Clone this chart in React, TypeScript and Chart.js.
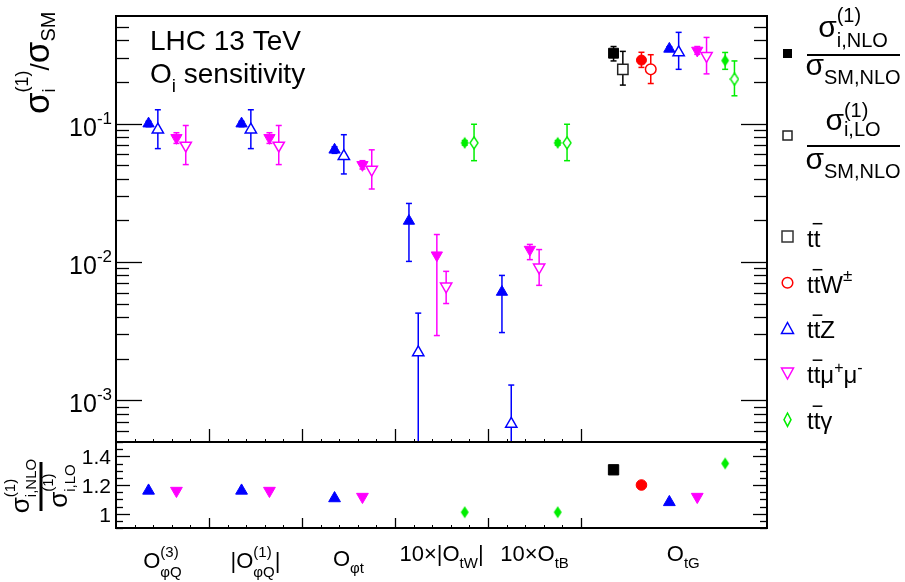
import React, { useEffect, useRef } from 'react';
import { Chart, registerables } from 'chart.js';
Chart.register(...registerables);

const FONT = '"Liberation Sans", Arial, Helvetica, sans-serif';

// ---------- axes / categories ----------
const categoryCenters = [0.5, 1.5, 2.5, 3.5, 4.5, 6.1];
const binBoundaries = [1, 2, 3, 4, 5];
const upperTickValues = [0.001, 0.01, 0.1];
const upperTickExponents = ['-3', '-2', '-1'];
const lowerTickValues = [1, 1.2, 1.4];
const lowerTickLabels = ['1', '1.2', '1.4'];

// ---------- t tbar ----------
const ttNloX = [5.35];
const ttNloY = [0.323];
const ttNloLo = [0.284];
const ttNloHi = [0.361];
const ttLoX = [5.45];
const ttLoY = [0.247];
const ttLoLo = [0.19];
const ttLoHi = [0.333];
const ttRatioX = [5.35];
const ttRatio = [1.306];

// ---------- t tbar W ----------
const ttwNloX = [5.65];
const ttwNloY = [0.288];
const ttwNloLo = [0.255];
const ttwNloHi = [0.328];
const ttwLoX = [5.75];
const ttwLoY = [0.247];
const ttwLoLo = [0.195];
const ttwLoHi = [0.315];
const ttwRatioX = [5.65];
const ttwRatio = [1.2];

// ---------- t tbar Z ----------
const ttzNloX = [0.35, 1.35, 2.35, 3.15, 4.15, 5.95];
const ttzNloY = [0.1, 0.1, 0.0647, 0.0198, 0.00607, 0.347];
const ttzNloLo = [0.095, 0.095, 0.061, 0.0101, 0.00309, 0.333];
const ttzNloHi = [0.104, 0.104, 0.068, 0.0265, 0.008, 0.36];
const ttzLoX = [0.45, 1.45, 2.45, 3.25, 4.25, 6.05];
const ttzLoY = [0.0904, 0.0904, 0.0582, 0.00222, 0.000676, 0.327];
const ttzLoLo = [0.066, 0.066, 0.0433, 0, 0, 0.247];
const ttzLoHi = [0.126, 0.126, 0.0832, 0.00427, 0.00129, 0.457];
const ttzRatioX = [0.35, 1.35, 2.35, 5.95];
const ttzRatio = [1.16, 1.16, 1.107, 1.08];

// ---------- t tbar mu mu ----------
const ttmNloX = [0.65, 1.65, 2.65, 3.45, 4.45, 6.25];
const ttmNloY = [0.079, 0.079, 0.0504, 0.0112, 0.0123, 0.338];
const ttmNloLo = [0.072, 0.072, 0.047, 0.00294, 0.0104, 0.317];
const ttmNloHi = [0.086, 0.086, 0.054, 0.0158, 0.0134, 0.361];
const ttmLoX = [0.75, 1.75, 2.75, 3.55, 4.55, 6.35];
const ttmLoY = [0.0696, 0.0696, 0.0466, 0.00667, 0.00916, 0.309];
const ttmLoLo = [0.0506, 0.0506, 0.0337, 0.00501, 0.00678, 0.229];
const ttmLoHi = [0.097, 0.097, 0.0647, 0.00856, 0.0123, 0.42];
const ttmRatioX = [0.65, 1.65, 2.65, 6.25];
const ttmRatio = [1.16, 1.16, 1.118, 1.118];

// ---------- t tbar gamma ----------
const ttgNloX = [3.75, 4.75, 6.55];
const ttgNloY = [0.0727, 0.0727, 0.286];
const ttgNloLo = [0.07, 0.07, 0.247];
const ttgNloHi = [0.0755, 0.0755, 0.327];
const ttgLoX = [3.85, 4.85, 6.65];
const ttgLoY = [0.0727, 0.0727, 0.21];
const ttgLoLo = [0.054, 0.054, 0.159];
const ttgLoHi = [0.099, 0.099, 0.284];
const ttgRatioX = [3.75, 4.75, 6.55];
const ttgRatio = [1.01, 1.01, 1.35];

const BLACK = '#000000';
const RED = '#ff0000';
const BLUE = '#0000ff';
const MAGENTA = '#ff00ff';
const GREEN = '#00ee00';

// ---------- rich text helpers ----------
type Seg = { t?: string; f: number; dy?: number; sup?: string; sub?: string; supDy?: number; subDy?: number; bar?: boolean };

function segW(ctx: CanvasRenderingContext2D, s: Seg) {
  ctx.font = `${s.f}px ${FONT}`;
  if (s.t !== undefined) return ctx.measureText(s.t).width;
  return Math.max(s.sup ? ctx.measureText(s.sup).width : 0, s.sub ? ctx.measureText(s.sub).width : 0);
}
function richW(ctx: CanvasRenderingContext2D, segs: Seg[]) {
  return segs.reduce((a, s) => a + segW(ctx, s), 0);
}
function drawRich(ctx: CanvasRenderingContext2D, x: number, y: number, segs: Seg[], align: string = 'left') {
  const w = richW(ctx, segs);
  let cx = align === 'center' ? x - w / 2 : align === 'right' ? x - w : x;
  ctx.textAlign = 'left';
  ctx.textBaseline = 'alphabetic';
  for (const s of segs) {
    const sw = segW(ctx, s);
    ctx.font = `${s.f}px ${FONT}`;
    if (s.t !== undefined) {
      ctx.fillText(s.t, cx, y + (s.dy || 0));
      if (s.bar) {
        ctx.save();
        ctx.lineWidth = 1.5;
        ctx.beginPath();
        const by = y + (s.dy || 0) - s.f * 0.95;
        ctx.moveTo(cx - 1, by);
        ctx.lineTo(cx + sw + 2, by);
        ctx.stroke();
        ctx.restore();
      }
    } else {
      if (s.sup) ctx.fillText(s.sup, cx, y + (s.supDy || 0));
      if (s.sub) ctx.fillText(s.sub, cx, y + (s.subDy || 0));
    }
    cx += sw;
  }
}

function makeDiamond(w: number, h: number, color: string, filled: boolean) {
  const c = document.createElement('canvas');
  c.width = w + 2;
  c.height = h + 2;
  const g = c.getContext('2d')!;
  g.beginPath();
  g.moveTo(c.width / 2, 1);
  g.lineTo(c.width - 1, c.height / 2);
  g.lineTo(c.width / 2, c.height - 1);
  g.lineTo(1, c.height / 2);
  g.closePath();
  if (filled) {
    g.fillStyle = color;
    g.fill();
  } else {
    g.fillStyle = '#fff';
    g.fill();
    g.strokeStyle = color;
    g.lineWidth = 1.4;
    g.stroke();
  }
  return c;
}

function line(ctx: CanvasRenderingContext2D, x1: number, y1: number, x2: number, y2: number) {
  ctx.beginPath();
  ctx.moveTo(x1, y1);
  ctx.lineTo(x2, y2);
  ctx.stroke();
}

function makeFramePlugin(cfg: any) {
  return {
    id: 'frame',
    afterDraw(chart: any) {
      const ctx = chart.ctx as CanvasRenderingContext2D;
      const a = chart.chartArea;
      const xs = chart.scales.x;
      const ys = chart.scales.y;
      ctx.save();
      ctx.strokeStyle = '#000';
      ctx.lineWidth = 1.3;
      for (const v of cfg.yMajor) {
        const y = Math.round(ys.getPixelForValue(v)) + 0.5;
        line(ctx, a.left, y, a.left + cfg.yMajorLen, y);
        line(ctx, a.right, y, a.right - cfg.yMajorLen, y);
      }
      for (const v of cfg.yMinor) {
        const y = Math.round(ys.getPixelForValue(v)) + 0.5;
        line(ctx, a.left, y, a.left + cfg.yMinorLen, y);
        line(ctx, a.right, y, a.right - cfg.yMinorLen, y);
      }
      for (const v of cfg.xMajor) {
        const x = Math.round(xs.getPixelForValue(v)) + 0.5;
        line(ctx, x, a.bottom, x, a.bottom - cfg.xMajorLen);
      }
      ctx.lineWidth = 1;
      for (const v of cfg.xMinor) {
        const x = Math.round(xs.getPixelForValue(v)) + 0.5;
        line(ctx, x, a.bottom, x, a.bottom - cfg.xMinorLen);
      }
      ctx.lineWidth = 2;
      ctx.strokeRect(a.left, a.top, a.right - a.left, a.bottom - a.top);
      if (cfg.labels) cfg.labels(chart, ctx);
      ctx.restore();
    },
  };
}

const errorBarPlugin = {
  id: 'errbars',
  beforeDatasetsDraw(chart: any) {
    const ctx = chart.ctx as CanvasRenderingContext2D;
    const ys = chart.scales.y;
    const a = chart.chartArea;
    ctx.save();
    ctx.beginPath();
    ctx.rect(a.left, a.top, a.right - a.left, a.bottom - a.top);
    ctx.clip();
    chart.data.datasets.forEach((ds: any, di: number) => {
      if (!ds.errLo) return;
      const meta = chart.getDatasetMeta(di);
      ctx.strokeStyle = ds.errColor;
      ctx.lineWidth = 1.5;
      meta.data.forEach((pt: any, i: number) => {
        const x = pt.x;
        const yHi = ys.getPixelForValue(ds.errHi[i]);
        const lowOff = !(ds.errLo[i] > 0);
        const yLo = lowOff ? a.bottom + 5 : ys.getPixelForValue(ds.errLo[i]);
        line(ctx, x, yHi, x, yLo);
        line(ctx, x - 3, yHi, x + 3, yHi);
        if (!lowOff) line(ctx, x - 3, yLo, x + 3, yLo);
      });
    });
    ctx.restore();
  },
};

function pts(xs: number[], ys: number[]) {
  return xs.map((x, i) => ({ x, y: ys[i] }));
}

function drawLegendMarkers(ctx: CanvasRenderingContext2D) {
  const cx = 787.5;
  ctx.save();
  ctx.fillStyle = '#000';
  ctx.fillRect(cx - 4.5, 49, 9, 9);
  ctx.strokeStyle = '#222';
  ctx.lineWidth = 1.5;
  ctx.strokeRect(cx - 4.5, 131, 9, 9);
  ctx.strokeStyle = '#333';
  ctx.strokeRect(cx - 5.5, 231, 11, 11);
  ctx.strokeStyle = RED;
  ctx.beginPath();
  ctx.arc(cx, 282.7, 5.3, 0, Math.PI * 2);
  ctx.stroke();
  ctx.strokeStyle = BLUE;
  ctx.beginPath();
  ctx.moveTo(cx, 322.5);
  ctx.lineTo(cx + 6, 333.5);
  ctx.lineTo(cx - 6, 333.5);
  ctx.closePath();
  ctx.stroke();
  ctx.strokeStyle = MAGENTA;
  ctx.beginPath();
  ctx.moveTo(cx - 6, 368);
  ctx.lineTo(cx + 6, 368);
  ctx.lineTo(cx, 379);
  ctx.closePath();
  ctx.stroke();
  ctx.strokeStyle = GREEN;
  ctx.beginPath();
  ctx.moveTo(cx, 413);
  ctx.lineTo(cx + 3.5, 419.7);
  ctx.lineTo(cx, 426.4);
  ctx.lineTo(cx - 3.5, 419.7);
  ctx.closePath();
  ctx.stroke();
  ctx.restore();
}

function drawTexts(chart: any, ctx: CanvasRenderingContext2D) {
  const xs = chart.scales.x;
  const ys = chart.scales.y;
  ctx.fillStyle = '#000';
  ctx.strokeStyle = '#000';

  drawRich(ctx, 150, 50, [{ t: 'LHC 13 TeV', f: 28 }]);
  drawRich(ctx, 150, 83, [{ t: 'O', f: 28 }, { t: 'i', f: 19, dy: 9 }, { t: ' sensitivity', f: 28 }]);

  upperTickValues.forEach((v, i) => {
    const y = ys.getPixelForValue(v);
    drawRich(ctx, 112, y + 12, [{ t: '10', f: 25 }, { t: upperTickExponents[i], f: 17, dy: -12 }], 'right');
  });

  // upper y title
  ctx.save();
  ctx.translate(49, 114);
  ctx.rotate(-Math.PI / 2);
  drawRich(ctx, 0, 0, [
    { t: 'σ', f: 35 },
    { sup: '(1)', sub: 'i', f: 18, supDy: -21, subDy: 6 },
    { t: '/', f: 26 },
    { t: 'σ', f: 35 },
    { t: 'SM', f: 20, dy: 6 },
  ]);
  ctx.restore();

  // lower y title (fraction)
  ctx.save();
  ctx.translate(0, 486);
  ctx.rotate(-Math.PI / 2);
  drawRich(ctx, 0, 29, [{ t: 'σ', f: 26 }, { sup: '(1)', sub: 'i,NLO', f: 15, supDy: -14, subDy: 7 }], 'center');
  drawRich(ctx, 0, 67, [{ t: 'σ', f: 26 }, { sup: '(1)', sub: 'i,LO', f: 15, supDy: -14, subDy: 8 }], 'center');
  ctx.lineWidth = 3;
  line(ctx, -25, 41, 24, 41);
  ctx.restore();

  const cats: Seg[][] = [
    [{ t: 'O', f: 22 }, { sup: '(3)', sub: 'φQ', f: 15, supDy: -11, subDy: 9 }],
    [{ t: '|O', f: 22 }, { sup: '(1)', sub: 'φQ', f: 15, supDy: -11, subDy: 9 }, { t: '|', f: 22 }],
    [{ t: 'O', f: 22 }, { t: 'φt', f: 15, dy: 7 }],
    [{ t: '10×|O', f: 22 }, { t: 'tW', f: 15, dy: 7 }, { t: '|', f: 22 }],
    [{ t: '10×O', f: 22 }, { t: 'tB', f: 15, dy: 7 }],
    [{ t: 'O', f: 22 }, { t: 'tG', f: 15, dy: 7 }],
  ];
  const baselines = [568, 568, 566, 561, 561, 561];
  cats.forEach((segs, i) => {
    drawRich(ctx, xs.getPixelForValue(categoryCenters[i]), baselines[i], segs, 'center');
  });

  drawRich(ctx, 853, 37, [{ t: 'σ', f: 30 }, { sup: '(1)', sub: 'i,NLO', f: 20, supDy: -15, subDy: 10 }], 'center');
  drawRich(ctx, 853, 75, [{ t: 'σ', f: 30 }, { t: 'SM,NLO', f: 20, dy: 9 }], 'center');
  ctx.lineWidth = 2;
  line(ctx, 807, 55, 900, 55);
  drawRich(ctx, 853, 130, [{ t: 'σ', f: 30 }, { sup: '(1)', sub: 'i,LO', f: 20, supDy: -13, subDy: 6 }], 'center');
  drawRich(ctx, 853, 169, [{ t: 'σ', f: 30 }, { t: 'SM,NLO', f: 20, dy: 9 }], 'center');
  line(ctx, 807, 146, 900, 146);

  const tt: Seg[] = [{ t: 't', f: 24 }, { t: 't', f: 24, bar: true }];
  drawRich(ctx, 807, 246.5, [...tt]);
  drawRich(ctx, 807, 292.5, [...tt, { t: 'W', f: 24 }, { t: '±', f: 17, dy: -12 }]);
  drawRich(ctx, 807, 338, [...tt, { t: 'Z', f: 24 }]);
  drawRich(ctx, 807, 383, [...tt, { t: 'μ', f: 24 }, { t: '+', f: 16, dy: -10 }, { t: 'μ', f: 24 }, { t: '-', f: 16, dy: -10 }]);
  drawRich(ctx, 807, 429, [...tt, { t: 'γ', f: 24 }]);

  drawLegendMarkers(ctx);
}

function drawLowerLabels(chart: any, ctx: CanvasRenderingContext2D) {
  const ys = chart.scales.y;
  ctx.fillStyle = '#000';
  lowerTickValues.forEach((v, i) => {
    drawRich(ctx, 111, ys.getPixelForValue(v) + 8, [{ t: lowerTickLabels[i], f: 21 }], 'right');
  });
}

export default function App() {
  const upRef = useRef<HTMLCanvasElement>(null);
  const loRef = useRef<HTMLCanvasElement>(null);

  useEffect(() => {
    const diaFill = makeDiamond(8, 12, GREEN, true);
    const diaOpen = makeDiamond(8, 12, GREEN, false);
    const diaFillLo = makeDiamond(8, 12, GREEN, true);

    const filled = (style: any, r: number, color: string, rot = 0) => ({
      pointStyle: style,
      pointRadius: r,
      pointHoverRadius: r,
      pointBackgroundColor: color,
      pointBorderColor: color,
      pointBorderWidth: 1,
      pointRotation: rot,
    });
    const open = (style: any, r: number, color: string, rot = 0) => ({
      pointStyle: style,
      pointRadius: r,
      pointHoverRadius: r,
      pointBackgroundColor: '#ffffff',
      pointBorderColor: color,
      pointBorderWidth: 1.5,
      pointRotation: rot,
    });

    const upperDatasets: any[] = [
      { data: pts(ttNloX, ttNloY), errLo: ttNloLo, errHi: ttNloHi, errColor: BLACK, ...filled('rect', 7, BLACK) },
      { data: pts(ttLoX, ttLoY), errLo: ttLoLo, errHi: ttLoHi, errColor: BLACK, ...open('rect', 7.3, '#222') },
      { data: pts(ttwNloX, ttwNloY), errLo: ttwNloLo, errHi: ttwNloHi, errColor: RED, ...filled('circle', 5, RED) },
      { data: pts(ttwLoX, ttwLoY), errLo: ttwLoLo, errHi: ttwLoHi, errColor: RED, ...open('circle', 5.3, RED) },
      { data: pts(ttzNloX, ttzNloY), errLo: ttzNloLo, errHi: ttzNloHi, errColor: BLUE, ...filled('triangle', 6.5, BLUE) },
      { data: pts(ttzLoX, ttzLoY), errLo: ttzLoLo, errHi: ttzLoHi, errColor: BLUE, ...open('triangle', 6.5, BLUE) },
      { data: pts(ttmNloX, ttmNloY), errLo: ttmNloLo, errHi: ttmNloHi, errColor: MAGENTA, ...filled('triangle', 6.5, MAGENTA, 180) },
      { data: pts(ttmLoX, ttmLoY), errLo: ttmLoLo, errHi: ttmLoHi, errColor: MAGENTA, ...open('triangle', 6.5, MAGENTA, 180) },
      { data: pts(ttgNloX, ttgNloY), errLo: ttgNloLo, errHi: ttgNloHi, errColor: GREEN, ...filled(diaFill, 5, GREEN) },
      { data: pts(ttgLoX, ttgLoY), errLo: ttgLoLo, errHi: ttgLoHi, errColor: GREEN, ...open(diaOpen, 5, GREEN) },
    ];

    const lowerDatasets: any[] = [
      { data: pts(ttRatioX, ttRatio), ...filled('rect', 7.3, BLACK) },
      { data: pts(ttwRatioX, ttwRatio), ...filled('circle', 5.3, RED) },
      { data: pts(ttzRatioX, ttzRatio), ...filled('triangle', 6.8, BLUE) },
      { data: pts(ttmRatioX, ttmRatio), ...filled('triangle', 6.8, MAGENTA, 180) },
      { data: pts(ttgRatioX, ttgRatio), ...filled(diaFillLo, 5, GREEN) },
    ];

    const upperMinors: number[] = [];
    for (let e = -4; e <= -1; e++) {
      for (let k = 2; k <= 9; k++) {
        const v = k * Math.pow(10, e);
        if (v > 5e-4 && v < 0.6) upperMinors.push(v);
      }
    }
    const lowerMinors: number[] = [];
    for (let i = 0; i <= 12; i++) {
      const v = 0.9 + i * 0.05;
      if (!lowerTickValues.some((m) => Math.abs(m - v) < 1e-6)) lowerMinors.push(v);
    }
    const xMinors: number[] = [];
    for (let i = 1; i < 25; i++) {
      const v = i * 0.2;
      if (Math.abs(v - Math.round(v)) > 1e-6) xMinors.push(v);
    }

    const common = {
      responsive: false,
      maintainAspectRatio: false,
      animation: false as const,
      devicePixelRatio: 1,
      events: [] as any[],
      plugins: { legend: { display: false }, tooltip: { enabled: false } },
    };

    const up = new Chart(upRef.current!, {
      type: 'scatter',
      data: { datasets: upperDatasets },
      options: {
        ...common,
        layout: { padding: { left: 116, top: 16, right: 138, bottom: 140 } },
        scales: {
          x: { type: 'linear', min: 0, max: 7, display: false },
          y: { type: 'logarithmic', min: 5e-4, max: 0.6, display: false },
        },
      } as any,
      plugins: [
        errorBarPlugin,
        makeFramePlugin({
          yMajor: upperTickValues,
          yMinor: upperMinors,
          yMajorLen: 26,
          yMinorLen: 13,
          xMajor: binBoundaries,
          xMinor: xMinors,
          xMajorLen: 13,
          xMinorLen: 3,
          labels: drawTexts,
        }),
      ],
    });

    const lo = new Chart(loRef.current!, {
      type: 'scatter',
      data: { datasets: lowerDatasets },
      options: {
        ...common,
        layout: { padding: { left: 116, top: 442, right: 138, bottom: 54 } },
        scales: {
          x: { type: 'linear', min: 0, max: 7, display: false },
          y: { type: 'linear', min: 0.9, max: 1.5, display: false },
        },
      } as any,
      plugins: [
        makeFramePlugin({
          yMajor: lowerTickValues,
          yMinor: lowerMinors,
          yMajorLen: 14,
          yMinorLen: 7,
          xMajor: binBoundaries,
          xMinor: xMinors,
          xMajorLen: 10,
          xMinorLen: 3,
          labels: drawLowerLabels,
        }),
      ],
    });

    return () => {
      up.destroy();
      lo.destroy();
    };
  }, []);

  return (
    <div style={{ position: 'fixed', left: 0, top: 0, width: 905, height: 582, background: '#ffffff' }}>
      <canvas ref={upRef} width={905} height={582} style={{ position: 'absolute', left: 0, top: 0 }} />
      <canvas ref={loRef} width={905} height={582} style={{ position: 'absolute', left: 0, top: 0 }} />
    </div>
  );
}
